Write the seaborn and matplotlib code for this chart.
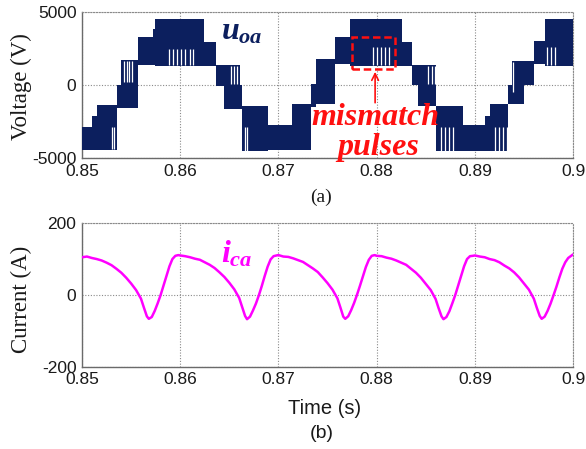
import matplotlib
matplotlib.use("Agg")
import matplotlib.pyplot as plt
import seaborn as sns
import pandas as pd
from matplotlib.patches import Rectangle

# ---------------- data: output voltage u_oa (PWM band envelope) ----------------
v_edges = [0.8500, 0.8510, 0.8515, 0.8536, 0.8540, 0.8557, 0.8572, 0.8574, 0.8624,
           0.8636, 0.8645, 0.8661, 0.8663, 0.8689, 0.8714, 0.8733, 0.8738, 0.8758,
           0.8773, 0.8826, 0.8836, 0.8842, 0.8860, 0.8888, 0.8910, 0.8915, 0.8934,
           0.8938, 0.8950, 0.8960, 0.8971, 0.9000]
v_low = [-4450, -4450, -4450, -1600, -1600, 1400, 1400, 1300, 1300, -50, -1650, -1650,
         -4550, -4480, -4480, -1500, -1330, 1430, 1310, 1310, 0, -1450, -4550, -4550,
         -4550, -4550, -1330, -1300, 0, 1430, 1310]
v_high = [-2850, -2150, -1350, 0, 1750, 3300, 3850, 4550, 2950, 1350, 1350, 0, -1430,
          -2710, -1330, 100, 1770, 3270, 4530, 2920, 1350, 1350, -1450, -2710, -2100,
          -1330, 0, 1660, 1660, 3040, 4530]

# gaps between switching pulses (incl. mismatch pulses)
gap_t = [0.85300, 0.85322,
         0.85428, 0.85455, 0.85482, 0.85506,
         0.85883, 0.85927, 0.85971, 0.86011, 0.86052, 0.86097, 0.86130,
         0.86520, 0.86550, 0.86580,
         0.86655, 0.86680,
         0.87966, 0.88007, 0.88045, 0.88086, 0.88123,
         0.88527, 0.88561, 0.88595,
         0.88656, 0.88697, 0.88741, 0.88775,
         0.89206, 0.89246, 0.89284, 0.89325,
         0.89386,
         0.89732, 0.89776, 0.89817]
gap_low = [-4400, -4400,
           200, 200, 200, 200,
           1380, 1380, 1380, 1380, 1380, 1380, 1380,
           100, 100, 100,
           -4500, -4500,
           1380, 1380, 1380, 1380, 1380,
           100, 100, 100,
           -4500, -4500, -4500, -4500,
           -4500, -4500, -4500, -4500,
           -500,
           1400, 1400, 1400]
gap_high = [-2900, -2900,
            1650, 1650, 1650, 1650,
            2500, 2500, 2500, 2500, 2500, 2500, 2500,
            1300, 1300, 1300,
            -2900, -2900,
            2600, 2600, 2600, 2600, 2600,
            1300, 1300, 1300,
            -2900, -2900, -2900, -2900,
            -2900, -2900, -2900, -2900,
            1600,
            2600, 2600, 2600]

# ---------------- data: capacitor current i_ca ----------------
cur_t = [
    0.8500, 0.8505, 0.8510, 0.8515, 0.8520, 0.8525, 0.8530, 0.8535, 0.8540, 0.8545,
    0.8550, 0.8555, 0.8560, 0.8563, 0.8566, 0.8568, 0.8571, 0.8574, 0.8577, 0.8580,
    0.8583, 0.8586, 0.8589, 0.8592, 0.8595, 0.8598,
    0.8600, 0.8605, 0.8610, 0.8615, 0.8620, 0.8625, 0.8630, 0.8635, 0.8640, 0.8645,
    0.8650, 0.8655, 0.8660, 0.8663, 0.8666, 0.8668, 0.8671, 0.8674, 0.8677, 0.8680,
    0.8683, 0.8686, 0.8689, 0.8692, 0.8695, 0.8698,
    0.8700, 0.8705, 0.8710, 0.8715, 0.8720, 0.8725, 0.8730, 0.8735, 0.8740, 0.8745,
    0.8750, 0.8755, 0.8760, 0.8763, 0.8766, 0.8768, 0.8771, 0.8774, 0.8777, 0.8780,
    0.8783, 0.8786, 0.8789, 0.8792, 0.8795, 0.8798,
    0.8800, 0.8805, 0.8810, 0.8815, 0.8820, 0.8825, 0.8830, 0.8835, 0.8840, 0.8845,
    0.8850, 0.8855, 0.8860, 0.8863, 0.8866, 0.8868, 0.8871, 0.8874, 0.8877, 0.8880,
    0.8883, 0.8886, 0.8889, 0.8892, 0.8895, 0.8898,
    0.8900, 0.8905, 0.8910, 0.8915, 0.8920, 0.8925, 0.8930, 0.8935, 0.8940, 0.8945,
    0.8950, 0.8955, 0.8960, 0.8963, 0.8966, 0.8968, 0.8971, 0.8974, 0.8977, 0.8980,
    0.8983, 0.8986, 0.8989, 0.8992, 0.8995, 0.9000]
cur_i = [
    104, 106, 102, 99, 95, 89, 82, 72, 61, 47, 31, 13, -11, -36, -60, -67, -62, -45, -24, -1,
    26, 53, 79, 99, 108, 110,
    109, 107, 104, 100, 97, 90, 83, 74, 62, 49, 33, 15, -9, -34, -59, -68, -61, -44, -25, -2,
    24, 52, 78, 98, 107, 109,
    110, 106, 105, 101, 96, 91, 82, 73, 63, 48, 32, 14, -10, -35, -61, -67, -60, -43, -23, 0,
    25, 51, 77, 97, 108, 110,
    108, 107, 103, 100, 95, 89, 83, 72, 61, 47, 30, 13, -12, -37, -60, -68, -62, -46, -24, -1,
    26, 53, 79, 99, 107, 108,
    109, 106, 104, 99, 96, 90, 81, 73, 62, 48, 31, 14, -11, -36, -59, -67, -61, -45, -25, -2,
    22, 48, 72, 90, 102, 112]

x_ticks = [0.85, 0.86, 0.87, 0.88, 0.89, 0.90]
x_ticklabels = ["0.85", "0.86", "0.87", "0.88", "0.89", "0.9"]
v_ticks = [-5000, 0, 5000]
i_ticks = [-200, 0, 200]

NAVY = "#0c1f5e"
MAGENTA = "#ff00ff"
RED = "#ff1010"

sns.set_theme(style="white")
plt.rcParams["font.family"] = ["Liberation Sans", "DejaVu Sans"]
plt.rcParams["axes.unicode_minus"] = False
plt.rcParams["mathtext.fontset"] = "custom"
plt.rcParams["mathtext.it"] = "Liberation Serif:italic:bold"
plt.rcParams["mathtext.rm"] = "Liberation Serif:bold"

fig = plt.figure(figsize=(5.86, 4.49), dpi=100)
ax1 = fig.add_axes([0.140, 0.648, 0.838, 0.325])
ax2 = fig.add_axes([0.140, 0.1833, 0.838, 0.3207])

# voltage band
ax1.fill_between(v_edges, v_low + [v_low[-1]], v_high + [v_high[-1]], step="post",
                 color=NAVY, lw=0, zorder=3)
ax1.vlines(gap_t, gap_low, gap_high, colors="white", lw=0.9, zorder=4)

# current
df_i = pd.DataFrame({"t": cur_t, "i": cur_i})
sns.lineplot(data=df_i, x="t", y="i", ax=ax2, color=MAGENTA, lw=1.8, zorder=3)

for ax, yt, ylim in [(ax1, v_ticks, (-5000, 5000)), (ax2, i_ticks, (-200, 200))]:
    ax.set_xlim(0.85, 0.90)
    ax.set_ylim(*ylim)
    ax.set_xticks(x_ticks)
    ax.set_xticklabels(x_ticklabels)
    ax.set_yticks(yt)
    ax.grid(True, ls=(0, (1, 1.5)), color="#8a8a8a", lw=0.8)
    ax.tick_params(axis="both", labelsize=12.5, colors="#1a1a1a", length=0, pad=4)
    for s in ["left", "bottom"]:
        ax.spines[s].set_color("#6a6a6a")
        ax.spines[s].set_linewidth(1.0)
    for s in ["top", "right"]:
        ax.spines[s].set_color("#8a8a8a")
        ax.spines[s].set_linestyle((0, (1, 1.5)))
        ax.spines[s].set_linewidth(0.8)
    ax.set_xlabel("")

ax1.set_ylabel("Voltage (V)", family=["Liberation Serif"], fontsize=16.5, color="#1a1a1a")
ax1.yaxis.set_label_coords(-0.102, 0.49)
ax2.set_ylabel("Current (A)", family=["Liberation Serif"], fontsize=16.5, color="#1a1a1a")
ax2.yaxis.set_label_coords(-0.102, 0.465)

# annotations
ax1.text(0.8663, 3650, r"$u_{oa}$", color=NAVY, fontsize=23, ha="center", va="center", zorder=6)
ax2.text(0.86578, 112, r"$i_{ca}$", color=MAGENTA, fontsize=23, ha="center", va="center", zorder=6)
ax1.add_patch(Rectangle((0.8775, 1100), 0.0044, 2170, fill=False, ec=RED, lw=1.8,
                        ls=(0, (3, 1.5)), zorder=5))
ax1.annotate("", xy=(0.87984, 1100), xytext=(0.87984, -1400),
             arrowprops=dict(arrowstyle="->", color=RED, lw=1.2), zorder=5)
ax1.text(0.87984, -2250, "mismatch", color=RED, fontsize=23, style="italic", weight="bold",
         family=["Liberation Serif"], ha="center", va="center", zorder=6)
ax1.text(0.88014, -4250, "pulses", color=RED, fontsize=23, style="italic", weight="bold",
         family=["Liberation Serif"], ha="center", va="center", zorder=6)

fig.text(321 / 586, 1 - 197 / 449, "(a)", family=["Liberation Serif"], fontsize=14,
         ha="center", va="center", color="#1a1a1a")
fig.text(325 / 586, 1 - 409 / 449, "Time (s)", fontsize=14.5, ha="center", va="center",
         color="#1a1a1a")
fig.text(321.5 / 586, 1 - 434 / 449, "(b)", fontsize=14, ha="center", va="center",
         color="#1a1a1a")

fig.savefig("out.png", dpi=100)
